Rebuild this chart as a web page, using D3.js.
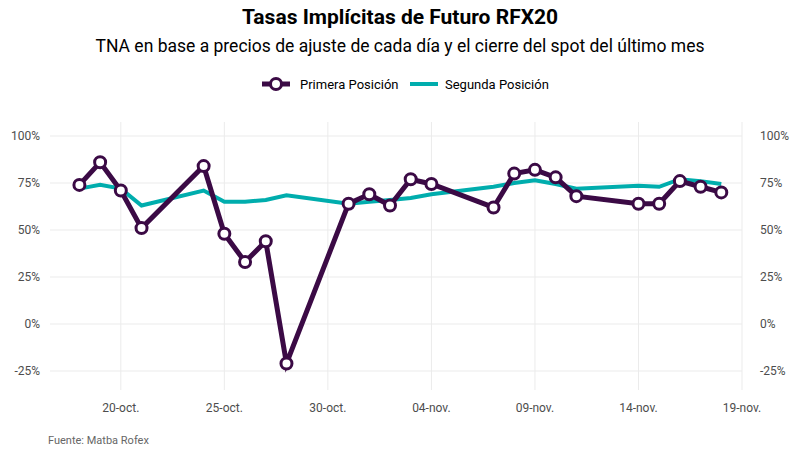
<!DOCTYPE html><html><head><meta charset="utf-8"><script src="https://cdn.jsdelivr.net/npm/d3@7"></script>
<style>body{margin:0;background:#fff;font-family:Roboto,sans-serif}</style></head><body><svg width="800" height="457"></svg><script>
const dates=["2022-10-18","2022-10-19","2022-10-20","2022-10-21","2022-10-24","2022-10-25","2022-10-26","2022-10-27","2022-10-28","2022-10-31","2022-11-01","2022-11-02","2022-11-03","2022-11-04","2022-11-07","2022-11-08","2022-11-09","2022-11-10","2022-11-11","2022-11-14","2022-11-15","2022-11-16","2022-11-17","2022-11-18"];
const primera=[74,86,71,51,84,48,33,44,-21,64,69,63,77,74.5,62,80,82,78,68,64,64,76,73,70];
const segunda=[72,74,72,63,71,65,65,66,68.5,64,65,66,67,69,73,75,76.5,74.5,72,73.5,73,77,76,74.5];
const yTicks=[-0.25,0,0.25,0.5,0.75,1];
const xTicks=["2022-10-20","2022-10-25","2022-10-30","2022-11-04","2022-11-09","2022-11-14","2022-11-19"];
const P=d3.timeParse("%Y-%m-%d");
const svg=d3.select("svg");
const x=d3.scaleTime().domain([P("2022-10-16"),P("2022-11-19")]).range([38,742]);
const y=d3.scaleLinear().domain([-0.25,1]).range([371,136]);
const L=50,R=742;
const g=svg.append("g");
yTicks.forEach(t=>{g.append("line").attr("x1",L).attr("x2",R).attr("y1",y(t)).attr("y2",y(t)).attr("stroke","#ebebeb");
 const lab=d3.format(".0%")(t).replace("−","-");
 g.append("text").attr("x",40).attr("y",y(t)+4).attr("text-anchor","end").attr("font-size",12).attr("fill","#4d4d4d").text(lab);
 g.append("text").attr("x",760).attr("y",y(t)+4).attr("text-anchor","start").attr("font-size",12).attr("fill","#4d4d4d").text(lab);});
const fmt=d=>{const m=["ene","feb","mar","abr","may","jun","jul","ago","sept","oct","nov","dic"];return d3.timeFormat("%d")(d)+"-"+m[d.getMonth()]+".";};
xTicks.forEach(s=>{const d=P(s);g.append("line").attr("x1",x(d)).attr("x2",x(d)).attr("y1",122).attr("y2",390).attr("stroke","#ebebeb");
 g.append("text").attr("x",x(d)).attr("y",412).attr("text-anchor","middle").attr("font-size",12).attr("fill","#4d4d4d").text(fmt(d));});
const data=dates.map((d,i)=>({d:P(d),p:primera[i]/100,s:segunda[i]/100}));
svg.append("path").datum(data).attr("fill","none").attr("stroke","#00adad").attr("stroke-width",4).attr("d",d3.line().x(d=>x(d.d)).y(d=>y(d.s)));
svg.append("path").datum(data).attr("fill","none").attr("stroke","#3b0a45").attr("stroke-width",5).attr("d",d3.line().x(d=>x(d.d)).y(d=>y(d.p)));
svg.selectAll("circle.p").data(data).join("circle").attr("cx",d=>x(d.d)).attr("cy",d=>y(d.p)).attr("r",5.5).attr("fill","#fff").attr("stroke","#3b0a45").attr("stroke-width",3);
svg.append("text").attr("x",400).attr("y",24).attr("text-anchor","middle").attr("font-size",21).attr("font-weight","bold").text("Tasas Implícitas de Futuro RFX20");
svg.append("text").attr("x",400).attr("y",52).attr("text-anchor","middle").attr("font-size",17.5).text("TNA en base a precios de ajuste de cada día y el cierre del spot del último mes");
const lg=svg.append("g");
lg.append("line").attr("x1",262).attr("x2",290).attr("y1",84).attr("y2",84).attr("stroke","#3b0a45").attr("stroke-width",5);
lg.append("circle").attr("cx",276).attr("cy",84).attr("r",5.5).attr("fill","#fff").attr("stroke","#3b0a45").attr("stroke-width",3);
lg.append("text").attr("x",300).attr("y",89).attr("font-size",13).text("Primera Posición");
lg.append("line").attr("x1",410).attr("x2",438).attr("y1",84).attr("y2",84).attr("stroke","#00adad").attr("stroke-width",4);
lg.append("text").attr("x",445).attr("y",89).attr("font-size",13).text("Segunda Posición");
svg.append("text").attr("x",48).attr("y",444).attr("font-size",11).attr("fill","#666").text("Fuente: Matba Rofex");
</script></body></html>
